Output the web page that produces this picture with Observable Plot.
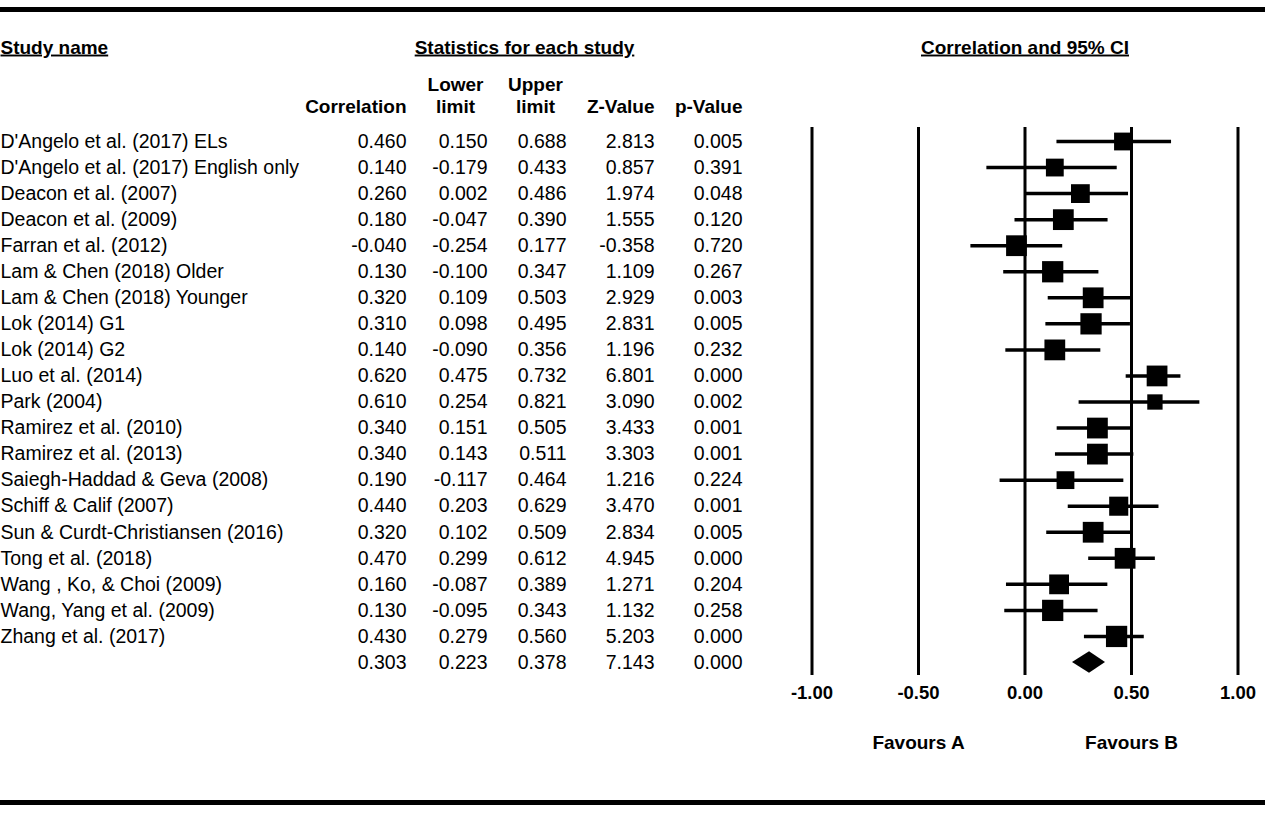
<!DOCTYPE html>
<html>
<head>
<meta charset="utf-8">
<script src="https://cdn.jsdelivr.net/npm/d3@7"></script>
<script src="https://cdn.jsdelivr.net/npm/@observablehq/plot@0.6"></script>
<style>
  html, body { margin: 0; padding: 0; background: #fff; }
  #wrap {
    margin-top: 7px;
    width: 1265px;
    border-top: 5px solid #000;
    border-bottom: 5px solid #000;
    overflow: hidden;
  }
  #wrap svg { display: block; }
</style>
</head>
<body>
<div id="wrap"></div>
<script>
// ---------- data ----------
const studies = [
  "D'Angelo et al. (2017) ELs",
  "D'Angelo et al. (2017) English only",
  "Deacon et al. (2007)",
  "Deacon et al. (2009)",
  "Farran et al. (2012)",
  "Lam & Chen (2018) Older",
  "Lam & Chen (2018) Younger",
  "Lok (2014) G1",
  "Lok (2014) G2",
  "Luo et al. (2014)",
  "Park (2004)",
  "Ramirez et al. (2010)",
  "Ramirez et al. (2013)",
  "Saiegh-Haddad & Geva (2008)",
  "Schiff & Calif (2007)",
  "Sun & Curdt-Christiansen (2016)",
  "Tong et al. (2018)",
  "Wang , Ko, & Choi (2009)",
  "Wang, Yang et al. (2009)",
  "Zhang et al. (2017)"
];
const correlation = [0.460, 0.140, 0.260, 0.180, -0.040, 0.130, 0.320, 0.310, 0.140, 0.620, 0.610, 0.340, 0.340, 0.190, 0.440, 0.320, 0.470, 0.160, 0.130, 0.430];
const lowerLimit  = [0.150, -0.179, 0.002, -0.047, -0.254, -0.100, 0.109, 0.098, -0.090, 0.475, 0.254, 0.151, 0.143, -0.117, 0.203, 0.102, 0.299, -0.087, -0.095, 0.279];
const upperLimit  = [0.688, 0.433, 0.486, 0.390, 0.177, 0.347, 0.503, 0.495, 0.356, 0.732, 0.821, 0.505, 0.511, 0.464, 0.629, 0.509, 0.612, 0.389, 0.343, 0.560];
const zValue      = [2.813, 0.857, 1.974, 1.555, -0.358, 1.109, 2.929, 2.831, 1.196, 6.801, 3.090, 3.433, 3.303, 1.216, 3.470, 2.834, 4.945, 1.271, 1.132, 5.203];
const pValue      = [0.005, 0.391, 0.048, 0.120, 0.720, 0.267, 0.003, 0.005, 0.232, 0.000, 0.002, 0.001, 0.001, 0.224, 0.001, 0.005, 0.000, 0.204, 0.258, 0.000];
// relative weights (%) estimated from the square sizes
const weight      = [3.97, 3.97, 4.42, 5.40, 5.40, 5.66, 5.40, 5.66, 5.40, 5.40, 2.94, 5.40, 5.40, 3.97, 4.56, 5.40, 5.40, 4.90, 5.66, 5.66];
// pooled estimate
const summaryCorrelation = 0.303;
const summaryLower = 0.223;
const summaryUpper = 0.378;
const summaryZ = 7.143;
const summaryP = 0.000;

const axisTicks = [-1, -0.5, 0, 0.5, 1];
const favourLabels = ["Favours A", "Favours B"];
const favourAt = [-0.5, 0.5];
const headerStudy = "Study name";
const headerStats = "Statistics for each study";
const headerCI = "Correlation and 95% CI";
const columnHeadTop = ["", "Lower", "Upper", "", ""];
const columnHeadBottom = ["Correlation", "limit", "limit", "Z-Value", "p-Value"];

// ---------- derived tables ----------
const studyRows = studies.map((name, i) => ({
  row: i, name, r: correlation[i], lo: lowerLimit[i], hi: upperLimit[i],
  z: zValue[i], p: pValue[i], w: weight[i]
}));
const summaryRow = studies.length;
const allRows = studyRows.concat([{
  row: summaryRow, name: "", r: summaryCorrelation, lo: summaryLower, hi: summaryUpper,
  z: summaryZ, p: summaryP
}]);
const diamondHalf = 0.415;
const diamond = [
  {x: summaryLower, y1: summaryRow, y2: summaryRow},
  {x: summaryCorrelation, y1: summaryRow - diamondHalf, y2: summaryRow + diamondHalf},
  {x: summaryUpper, y1: summaryRow, y2: summaryRow}
];
const favours = favourLabels.map((label, i) => ({label, at: favourAt[i]}));

// layout (pixel offsets of table columns from the left edge)
const colKeys = ["r", "lo", "hi", "z", "p"];
const colRight = [406, 487, 566, 654, 742];
const headAnchor = ["end", "middle", "middle", "end", "end"];
const headPos = [406, 455, 535, 654, 742];

const FONT = "'Liberation Sans', Arial, Helvetica, sans-serif";
const FS = 19;
const FSN = 19.5;

const tableMarks = colKeys.map((k, j) =>
  Plot.text(allRows, {
    y: "row", text: d => d[k].toFixed(3),
    frameAnchor: "left", dx: colRight[j], textAnchor: "end", fontSize: FSN
  })
);
const headMarks = colKeys.flatMap((k, j) => [
  Plot.text([columnHeadTop[j]], {
    y: () => -2.19, text: d => d, frameAnchor: "left", dx: headPos[j],
    textAnchor: headAnchor[j], fontWeight: "bold", fontSize: FS
  }),
  Plot.text([columnHeadBottom[j]], {
    y: () => -1.33, text: d => d, frameAnchor: "left", dx: headPos[j],
    textAnchor: headAnchor[j], fontWeight: "bold", fontSize: FS
  })
]);

const chart = Plot.plot({
  width: 1265,
  height: 788,
  marginLeft: 0, marginRight: 0, marginTop: 0, marginBottom: 0,
  x: {domain: [-1, 1], range: [811.5, 1237.5], axis: null},
  y: {domain: [0, 20], range: [129, 650], axis: null},
  r: {type: "sqrt", domain: [0, d3.max(weight)], range: [0, 12.0]},
  style: {fontFamily: FONT, color: "#000", background: "#fff", overflow: "visible"},
  marks: [
    // vertical reference lines
    Plot.ruleX(axisTicks, {x: d => d, y1: -0.54, y2: 20.5, stroke: "#000", strokeWidth: 3}),
    // confidence intervals
    Plot.ruleY(studyRows, {y: "row", x1: "lo", x2: "hi", stroke: "#000", strokeWidth: 3.5}),
    // point estimates
    Plot.dot(studyRows, {x: "r", y: "row", r: "w", symbol: "square", fill: "#000", stroke: null}),
    // summary diamond
    Plot.areaY(diamond, {x: "x", y1: "y1", y2: "y2", fill: "#000"}),
    // tick labels
    Plot.text(axisTicks, {x: d => d, y: () => 21.18, text: d => d.toFixed(2), fontWeight: "bold", fontSize: 18.5}),
    // favours labels
    Plot.text(favours, {x: "at", y: () => 23.07, text: "label", fontWeight: "bold", fontSize: FS}),
    // study names
    Plot.text(allRows, {y: "row", text: "name", frameAnchor: "left", dx: 0, textAnchor: "start", fontSize: FSN}),
    ...tableMarks,
    ...headMarks,
    // section headers
    Plot.text([headerStudy], {y: () => -3.61, text: d => d, frameAnchor: "left", dx: 0, textAnchor: "start", fontWeight: "bold", fontSize: FS}),
    Plot.text([headerStats], {y: () => -3.61, text: d => d, frameAnchor: "left", dx: 524, textAnchor: "middle", fontWeight: "bold", fontSize: FS}),
    Plot.text([headerCI], {x: () => 0, y: () => -3.61, text: d => d, textAnchor: "middle", fontWeight: "bold", fontSize: FS})
  ]
});

const titles = [headerStudy, headerStats, headerCI];
d3.select(chart).selectAll("text")
  .filter(function() { return titles.includes(this.textContent); })
  .style("text-decoration", "underline")
  .style("text-underline-offset", "3px");

document.getElementById("wrap").appendChild(chart);
</script>
</body>
</html>
